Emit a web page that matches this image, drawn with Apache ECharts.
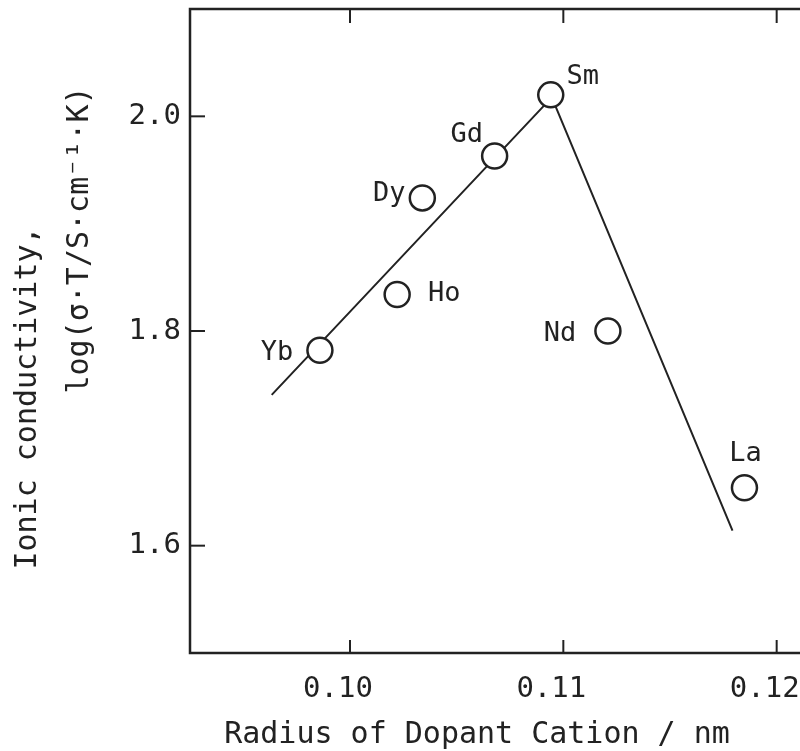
<!DOCTYPE html>
<html>
<head>
<meta charset="utf-8">
<script src="https://cdn.jsdelivr.net/npm/echarts@6/dist/echarts.min.js"></script>
<style>
  html, body { margin: 0; padding: 0; background: #fff; }
  #chart { width: 800px; height: 751px; }
</style>
</head>
<body>
<div id="chart"></div>
<script>
  // dopant cations
  let dopants = ['Yb', 'Ho', 'Dy', 'Gd', 'Sm', 'Nd', 'La']
  let radius = [0.09859, 0.10221, 0.10339, 0.10678, 0.10941, 0.11209, 0.11849]
  let logSigmaT = [1.782, 1.834, 1.924, 1.963, 2.020, 1.800, 1.654]

  // the two straight lines drawn through the points
  let fitX = [0.09633, 0.10946, 0.11793]
  let fitY = [1.7405, 2.0177, 1.614]

  let xTicks = [0.10, 0.11, 0.12]
  let yTicks = [1.6, 1.8, 2.0]

  let xMin = 0.0925, xMax = 0.1225
  let yMin = 1.5, yMax = 2.1

  let ink = '#222'
  let font = 'DejaVu Sans Mono'

  // label placement around each circle (offset from centre, px)
  let labelOffset = {
    Yb: [-43, 3], Ho: [47, -1], Dy: [-33, -4], Gd: [-28, -21],
    Sm: [32, -18], Nd: [-48, 3], La: [1, -34]
  }

  let chart = echarts.init(document.getElementById('chart'))

  chart.setOption({
    backgroundColor: '#fff',
    animation: false,
    grid: {
      left: 190, right: -30, top: 9, bottom: 98,
      outerBoundsMode: 'none',
      containLabel: false,
      show: true, borderColor: ink, borderWidth: 2.5
    },
    xAxis: {
      type: 'value', min: xMin, max: xMax, interval: 0.0025,
      axisLine: { show: false }, axisTick: { show: false }, splitLine: { show: false },
      axisLabel: {
        margin: 22, color: ink, fontFamily: font, fontSize: 29,
        padding: [0, 24, 0, 0],
        formatter: v => Math.round(v * 10000) % 100 === 0 ? v.toFixed(2) : ''
      }
    },
    yAxis: {
      type: 'value', min: yMin, max: yMax, interval: 0.1,
      axisLine: { show: false }, axisTick: { show: false }, splitLine: { show: false },
      axisLabel: {
        margin: 9, color: ink, fontFamily: font, fontSize: 29,
        formatter: v => Math.round(v * 10) % 2 === 0 ? v.toFixed(1) : ''
      }
    },
    graphic: [
      {
        type: 'text', x: 28, y: 398, rotation: Math.PI / 2,
        style: { text: 'Ionic conductivity,', fill: ink, font: '30px "DejaVu Sans Mono"', align: 'center', verticalAlign: 'middle' }
      },
      {
        type: 'text', x: 80, y: 240, rotation: Math.PI / 2,
        style: { text: 'log(σ·T/S·cm⁻¹·K)', fill: ink, font: '30px "DejaVu Sans Mono"', align: 'center', verticalAlign: 'middle' }
      },
      {
        type: 'text', x: 477, y: 735,
        style: { text: 'Radius of Dopant Cation / nm', fill: ink, font: '30px "DejaVu Sans Mono"', align: 'center', verticalAlign: 'middle' }
      }
    ],
    series: [
      {
        type: 'line',
        data: fitX.map((x, i) => [x, fitY[i]]),
        symbol: 'none',
        lineStyle: { color: ink, width: 2 },
        z: 2
      },
      {
        type: 'scatter',
        data: dopants.map((d, i) => ({
          name: d,
          value: [radius[i], logSigmaT[i]],
          label: { offset: labelOffset[d] }
        })),
        symbol: 'circle',
        symbolSize: 25,
        itemStyle: { color: '#fff', borderColor: ink, borderWidth: 2.5, opacity: 1 },
        label: {
          show: true, position: 'inside', formatter: '{b}',
          color: ink, fontFamily: font, fontSize: 27
        },
        z: 3
      },
      {
        // ticks on bottom and top edge
        type: 'custom',
        data: xTicks.map(x => [x, yMin]),
        renderItem: (params, api) => {
          let b = api.coord([api.value(0), yMin])
          let t = api.coord([api.value(0), yMax])
          return {
            type: 'group',
            children: [
              { type: 'line', shape: { x1: b[0], y1: b[1], x2: b[0], y2: b[1] - 13 }, style: { stroke: ink, lineWidth: 2 } },
              { type: 'line', shape: { x1: t[0], y1: t[1], x2: t[0], y2: t[1] + 14 }, style: { stroke: ink, lineWidth: 2 } }
            ]
          }
        },
        silent: true,
        z: 4
      },
      {
        // ticks on left edge
        type: 'custom',
        data: yTicks.map(y => [xMin, y]),
        renderItem: (params, api) => {
          let p = api.coord([xMin, api.value(1)])
          return { type: 'line', shape: { x1: p[0], y1: p[1], x2: p[0] + 15, y2: p[1] }, style: { stroke: ink, lineWidth: 2 } }
        },
        silent: true,
        z: 4
      }
    ]
  })
</script>
</body>
</html>
